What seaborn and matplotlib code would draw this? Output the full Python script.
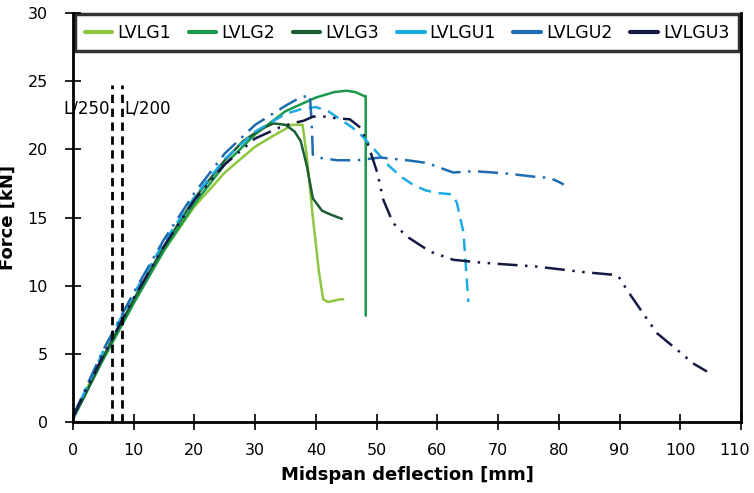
import matplotlib
matplotlib.use("Agg")
import matplotlib.pyplot as plt
import matplotlib.transforms as mtransforms
import seaborn as sns
import pandas as pd

# Data (deflection mm, force kN)
lvlg1_x = [0, 2, 5, 10, 15, 20, 25, 30, 33, 35, 36, 37.8, 38.5, 39.5, 40.5, 41.2, 42, 43, 44, 44.5]
lvlg1_y = [0.3, 2.2, 4.8, 8.9, 12.6, 15.8, 18.3, 20.2, 21.0, 21.5, 21.8, 21.8, 19.5, 15, 11, 9.0, 8.8, 8.9, 9.0, 9.0]

lvlg2_x = [0, 2, 5, 10, 15, 20, 25, 30, 35, 40, 43, 45, 46.5, 48, 48.2, 48.2]
lvlg2_y = [0.2, 2.0, 4.6, 8.7, 12.6, 16.0, 18.9, 21.1, 22.8, 23.8, 24.2, 24.3, 24.2, 23.9, 23.9, 7.8]

lvlg3_x = [0, 2, 5, 10, 15, 20, 25, 28, 31, 33, 35, 36.5, 37.5, 38.5, 39.5, 41, 42.5, 44.3]
lvlg3_y = [0.3, 2.0, 4.8, 9.0, 12.9, 16.4, 19.2, 20.6, 21.5, 21.9, 21.8, 21.3, 20.6, 18.8, 16.4, 15.5, 15.2, 14.9]

lvlgu1_x = [0, 2, 5, 10, 15, 20, 25, 30, 35, 38, 40, 42, 44, 46, 47.8, 50, 52, 54, 56, 58, 60,
            62.4, 63.2, 64.3, 65.1]
lvlgu1_y = [0.4, 2.3, 5.2, 9.4, 13.2, 16.5, 19.3, 21.3, 22.6, 23.0, 23.1, 22.8, 22.2, 21.6, 20.9,
            19.8, 18.8, 18.0, 17.4, 17.0, 16.8, 16.7, 16.1, 13.9, 8.8]

lvlgu2_x = [0, 2, 5, 10, 15, 20, 25, 30, 35, 37, 39, 39.3, 39.5, 40.2, 43.5, 46.8, 50.6, 55, 58.3,
            62.6, 66, 69.2, 72, 75.8, 78.6, 80.5, 80.8]
lvlgu2_y = [0.4, 2.4, 5.3, 9.5, 13.4, 16.8, 19.7, 21.8, 23.2, 23.7, 24.0, 22, 19.6, 19.4, 19.2, 19.2,
            19.4, 19.2, 19.0, 18.3, 18.4, 18.3, 18.2, 18.0, 17.9, 17.5, 17.4]

lvlgu3_x = [0, 2, 5, 10, 15, 20, 25, 30, 34, 36, 38, 39.5, 41.8, 43, 45.6, 47.3, 48.4, 50.1, 51.1,
            52.7, 55, 58.8, 62.6, 67, 70, 76.4, 84, 89, 89.8, 91.2, 94.6, 96.2, 100, 102.1, 104.4]
lvlgu3_y = [0.4, 2.2, 4.9, 9.1, 12.9, 16.3, 18.9, 20.8, 21.6, 21.9, 22.1, 22.4, 22.4, 22.3, 22.2,
            21.6, 20.6, 18.3, 16.3, 14.6, 13.6, 12.5, 11.9, 11.7, 11.6, 11.4, 11.0, 10.8, 10.7, 9.7,
            7.5, 6.5, 5.1, 4.3, 3.7]

series_names = ["LVLG1", "LVLG2", "LVLG3", "LVLGU1", "LVLGU2", "LVLGU3"]
series_x = [lvlg1_x, lvlg2_x, lvlg3_x, lvlgu1_x, lvlgu2_x, lvlgu3_x]
series_y = [lvlg1_y, lvlg2_y, lvlg3_y, lvlgu1_y, lvlgu2_y, lvlgu3_y]

# serviceability limits L/250 and L/200
limit_labels = ["L/250", "L/200"]
limit_x = [6.4, 8.0]
limit_top = 24.7

colors = {"LVLG1": "#8dc63f", "LVLG2": "#1a9a48", "LVLG3": "#1b5e33",
          "LVLGU1": "#1cabe2", "LVLGU2": "#1f6bb0", "LVLGU3": "#151a45"}
dashes = {"LVLG1": "", "LVLG2": "", "LVLG3": "",
          "LVLGU1": (5, 3), "LVLGU2": (8, 3, 1, 3), "LVLGU3": (8, 3, 1, 3, 1, 3)}

rows = []
for name, xs, ys in zip(series_names, series_x, series_y):
    for i, (x, y) in enumerate(zip(xs, ys)):
        rows.append({"test": name, "i": i, "deflection": x, "force": y})
df = pd.DataFrame(rows)

sns.set_style("white")
plt.rcParams["font.family"] = ["Liberation Sans Narrow", "DejaVu Sans"]
plt.rcParams["text.color"] = "black"
plt.rcParams["axes.labelcolor"] = "black"

fig = plt.figure(figsize=(7.54, 4.93), dpi=100)
ax = fig.add_axes([0.0968, 0.144, 0.886, 0.8296])

sns.lineplot(data=df, x="deflection", y="force", hue="test", style="test",
             hue_order=series_names, style_order=series_names,
             palette=colors, dashes=dashes, sort=False, estimator=None,
             units="test", linewidth=1.8, ax=ax)

for lx in limit_x:
    ax.plot([lx, lx], [0, limit_top], color="black", linestyle=(0, (3, 2)), linewidth=2)
ax.text(limit_x[0] - 0.4, 23.0, limit_labels[0], ha="right", va="center", fontsize=12)
ax.text(limit_x[1] + 0.4, 23.0, limit_labels[1], ha="left", va="center", fontsize=12)

ax.set_xlim(0, 110)
ax.set_ylim(0, 30)
ax.set_xticks(range(0, 111, 10))
ax.set_yticks(range(0, 31, 5))
ax.tick_params(bottom=True, left=True, direction="inout", length=12, width=1.2,
               labelsize=11.5, colors="black")
ax.tick_params(axis="x", pad=9)
ax.tick_params(axis="y", pad=12)
for side in ["left", "bottom", "right", "top"]:
    ax.spines[side].set_color("black")
    ax.spines[side].set_linewidth(2)
ax.spines["top"].set_visible(False)

# keep the last x tick label ("110") inside the figure edge
last = ax.get_xticklabels()[-1]
last.set_transform(last.get_transform()
                   + mtransforms.ScaledTranslation(-5 / 72, 0, fig.dpi_scale_trans))

ax.set_xlabel("Midspan deflection [mm]", fontsize=13, fontweight="bold", labelpad=6)
ax.set_ylabel("Force [kN]", fontsize=13, fontweight="bold", labelpad=8)

leg = ax.legend(loc="upper left", bbox_to_anchor=(0.003, 0.997, 0.994, 0), mode="expand", ncol=6,
                frameon=True, fancybox=False, edgecolor="black", fontsize=12.5,
                handlelength=1.6, handletextpad=0.3, borderaxespad=0, borderpad=0.55)
leg.get_frame().set_linewidth(2.5)
for h in leg.get_lines():
    h.set_linestyle("-")
    h.set_linewidth(3)

fig.savefig("out.png", dpi=100)
